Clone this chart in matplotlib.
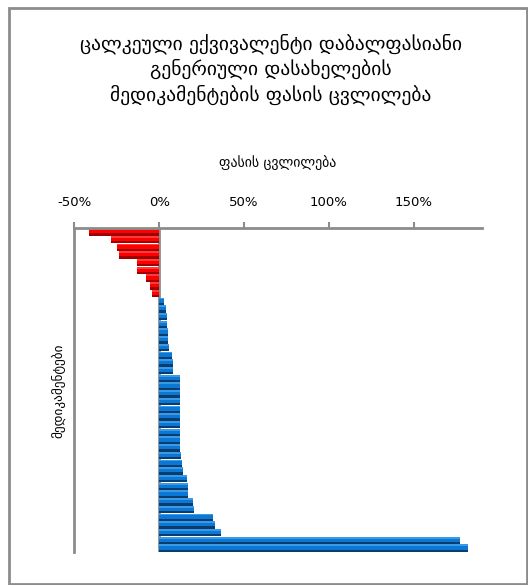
import numpy as np
import matplotlib
matplotlib.use("Agg")
import matplotlib.pyplot as plt
from matplotlib.patches import Rectangle

plt.rcParams['font.family'] = ['DejaVu Sans']

# Price change of each medicine (percent), in chart order from top to bottom
price_drop = [-41.5, -28.5, -25.0, -23.8, -13.3, -13.2, -7.9, -5.5, -4.5]
price_rise = [2.6, 4.3, 4.5, 4.9, 5.3, 5.3, 5.5, 7.3, 7.9, 8.3,
              12.0, 12.0, 12.0, 12.0, 12.0, 12.0, 12.0, 12.1, 12.1,
              12.4, 12.8, 13.2, 13.8, 16.2, 17.1, 17.1, 20.1, 20.7,
              31.7, 33.0, 36.4, 177.0, 182.0]

tick_values = [-50, 0, 50, 100, 150]
tick_labels = ['-50%', '0%', '50%', '100%', '150%']

title = ("ცალკეული ექვივალენტი დაბალფასიანი\n"
         "გენერიული დასახელების\n"
         "მედიკამენტების ფასის ცვლილება")
x_title = "ფასის ცვლილება"
y_title = "მედიკამენტები"

W, H = 528, 585
fig = plt.figure(figsize=(W / 100, H / 100), dpi=100)
ax = fig.add_axes([74.3 / W, 1 - 552 / H, (481.7 - 74.3) / W, (552 - 228) / H])

values = np.array(price_drop + price_rise)
pos = np.arange(len(values))
is_neg = values < 0

main = np.where(is_neg, '#ff0000', '#0c78d6')
light = np.where(is_neg, '#ff3a3a', '#3a9ae6')
dark = np.where(is_neg, '#a00000', '#0a3d6c')

h = 0.96
# body of each bar
ax.barh(pos, values, height=h, color=main, linewidth=0, zorder=2)
# highlight band along the upper edge
ax.barh(pos - h / 2 + 0.12, values, height=0.24, color=light, linewidth=0, zorder=2)
# shadow band along the lower edge
ax.barh(pos + h / 2 - 0.15, values, height=0.30, color=dark, linewidth=0, zorder=2)

ax.set_xlim(-50, 190)
ax.set_ylim(len(values) - 0.5, -0.5)

grey = '#8c8c8c'
ax.axvline(0, color=grey, lw=2, zorder=1)
for side in ['right', 'bottom']:
    ax.spines[side].set_visible(False)
for side in ['top', 'left']:
    ax.spines[side].set_color(grey)
    ax.spines[side].set_linewidth(2)

ax.xaxis.set_ticks_position('top')
ax.xaxis.set_label_position('top')
ax.set_xticks(tick_values)
ax.set_xticklabels(tick_labels, fontsize=9.5)
ax.tick_params(axis='x', direction='out', length=4, width=1.5, color=grey, pad=10)
ax.set_yticks([])

fig.text(278 / W, 1 - 163 / H, x_title, ha='center', va='center', fontsize=10)
fig.text(58 / W, 1 - 391 / H, y_title, ha='center', va='center', fontsize=9.5, rotation=90)
fig.text(271 / W, 1 - 69 / H, title, ha='center', va='center', fontsize=14,
         linespacing=1.3)

fig.patches.append(Rectangle((9 / W, 1 - 584 / H), (527 - 9) / W, (584 - 8) / H,
                             transform=fig.transFigure, fill=False,
                             edgecolor=grey, lw=2))

fig.savefig('out.png', dpi=100)
